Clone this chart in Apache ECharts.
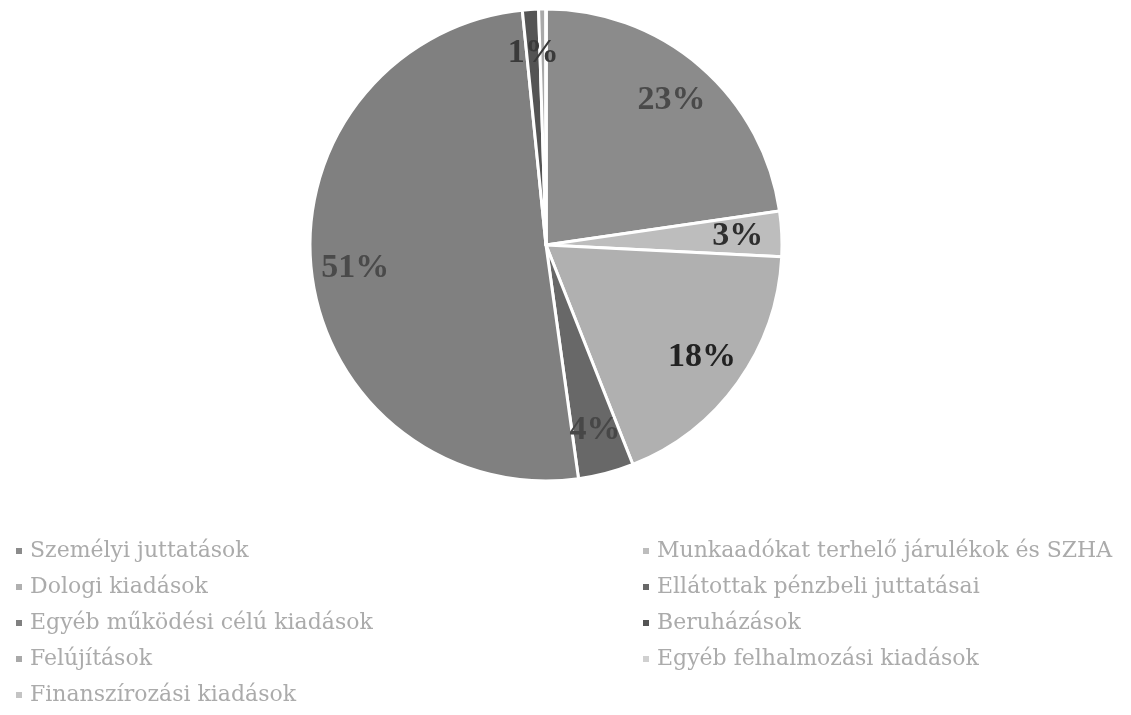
<!DOCTYPE html>
<html>
<head>
<meta charset="utf-8">
<script src="https://cdn.jsdelivr.net/npm/echarts@6/dist/echarts.min.js"></script>
<style>
html,body{margin:0;padding:0;background:#fff;}
#c{width:1131px;height:715px;}
#fontwarm{position:absolute;left:-9999px;top:0;font-family:"Liberation Serif";font-weight:bold;font-size:34px;}
</style>
</head>
<body>
<div id="fontwarm">23% 18% 51%</div>
<div id="c"></div>
<script>
// Data
var categories = [
  'Személyi juttatások',
  'Munkaadókat terhelő járulékok és SZHA',
  'Dologi kiadások',
  'Ellátottak pénzbeli juttatásai',
  'Egyéb működési célú kiadások',
  'Beruházások',
  'Felújítások',
  'Egyéb felhalmozási kiadások',
  'Finanszírozási kiadások'
];
var values = [22.7, 3.1, 18.2, 3.8, 50.6, 1.1, 0.5, 0, 0];
var leftLegend = ['Személyi juttatások','Dologi kiadások','Egyéb működési célú kiadások','Felújítások','Finanszírozási kiadások'];
var rightLegend = ['Munkaadókat terhelő járulékok és SZHA','Ellátottak pénzbeli juttatásai','Beruházások','Egyéb felhalmozási kiadások'];

// Styles
var colors = ['#8b8b8b','#bdbdbd','#b0b0b0','#686868','#808080','#545454','#a9a9a9','#d0d0d0','#c4c4c4'];
var labelColors = ['#4a4a4a','#2e2e2e','#222222','#474747','#4a4a4a','#3a3a3a','#3a3a3a','#3a3a3a','#3a3a3a'];

var labelFont = '"Liberation Serif", "DejaVu Serif", serif';
var total = values.reduce(function(a,b){return a+b;},0);
var baseData = categories.map(function(n,i){
  return {name:n, value:values[i], itemStyle:{color:colors[i]}};
});
var labelData = categories.map(function(n,i){
  return {name:n, value:values[i], label:{show: values[i] >= 0.5, color:labelColors[i]}};
});

var legendText = {fontFamily:'"DejaVu Serif", serif', fontSize:22, color:'#ababab', padding:[0,0,0,2]};

var chart = echarts.init(document.getElementById('c'), null, {renderer:'canvas'});
function draw(){
chart.setOption({
  animation:false,
  backgroundColor:'#ffffff',
  color: colors,
  legend:[
    {data:leftLegend, orient:'vertical', left:9, top:535, height:220, itemWidth:8, itemHeight:8, itemGap:14, icon:'rect', textStyle:legendText, selectedMode:false},
    {data:rightLegend, orient:'vertical', left:636, top:535, height:220, itemWidth:8, itemHeight:8, itemGap:14, icon:'rect', textStyle:legendText, selectedMode:false}
  ],
  series:[
    {
      type:'pie', center:[546,245], radius:[0,236], startAngle:90, clockwise:true,
      minAngle:0, avoidLabelOverlap:false, silent:true,
      label:{show:false}, labelLine:{show:false},
      itemStyle:{borderColor:'#ffffff', borderWidth:3},
      data: baseData
    },
    {
      type:'pie', center:[546,245], radius:[142,236], startAngle:90, clockwise:true,
      avoidLabelOverlap:false, silent:true, legendHoverLink:false,
      itemStyle:{color:'rgba(0,0,0,0)', borderWidth:0},
      labelLine:{show:false},
      label:{show:true, position:'inside', fontFamily:labelFont, fontWeight:'bold', fontSize:34,
        formatter:function(p){ return Math.round(p.value/total*100) + '%'; }},
      data: labelData
    }
  ]
}, true);
}
draw();
if (document.fonts && document.fonts.load) {
  document.fonts.load('bold 34px "Liberation Serif"').then(function(){ chart.clear(); draw(); });
}
</script>
</body>
</html>
